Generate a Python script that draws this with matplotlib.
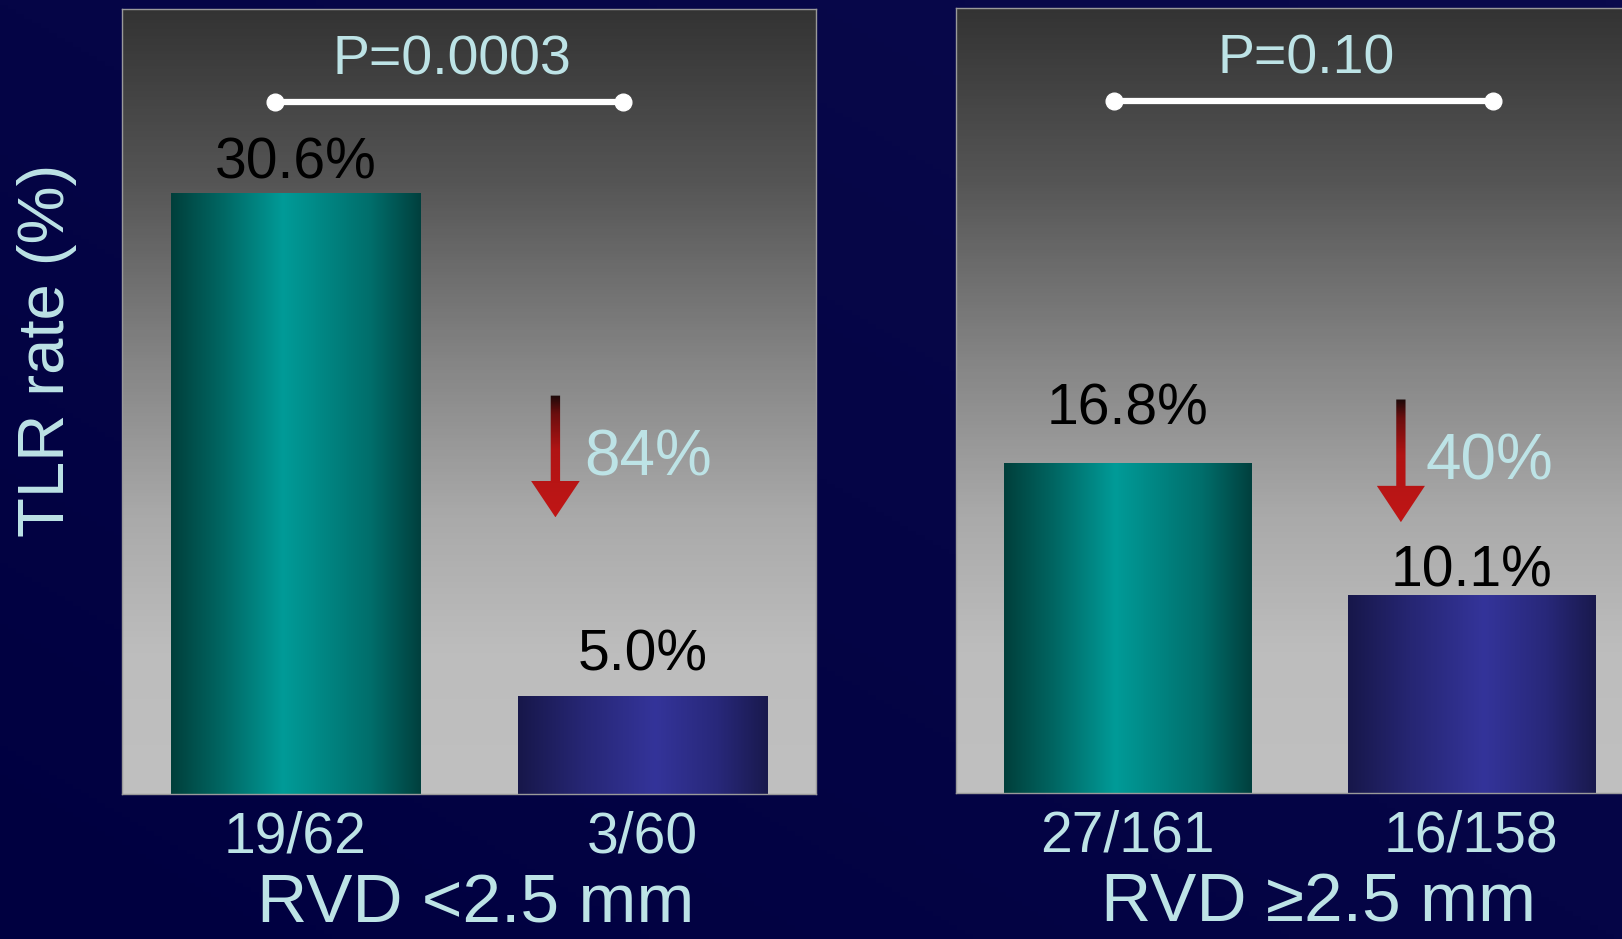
import numpy as np
import matplotlib
matplotlib.use("Agg")
import matplotlib.pyplot as plt
from matplotlib.colors import LinearSegmentedColormap
from matplotlib.patches import FancyArrow

plt.rcParams["font.family"] = ["Liberation Sans", "DejaVu Sans"]

# data
group_titles = ["RVD <2.5 mm", "RVD \u22652.5 mm"]
tlr_rates = [[30.6, 5.0], [16.8, 10.1]]
rate_labels = [["30.6%", "5.0%"], ["16.8%", "10.1%"]]
event_counts = [["19/62", "3/60"], ["27/161", "16/158"]]
p_values = ["P=0.0003", "P=0.10"]
reductions = ["84%", "40%"]

TXT = "#bde3e6"
BG_TOP = "#000040"

teal = LinearSegmentedColormap.from_list(
    "teal", [(0, "#003f3b"), (0.2, "#006662"), (0.45, "#009b98"), (0.8, "#006e6b"), (1, "#00403e")])
blue = LinearSegmentedColormap.from_list(
    "blue", [(0, "#17174a"), (0.25, "#262673"), (0.55, "#34349a"), (0.8, "#28287a"), (1, "#19194d")])
panel_cmap = LinearSegmentedColormap.from_list(
    "panel", [(0, "#c0c0c0"), (0.18, "#bdbdbd"), (0.35, "#aaaaaa"), (0.55, "#858585"),
              (0.78, "#555555"), (1, "#333333")])
arrow_cmap = LinearSegmentedColormap.from_list(
    "arr", [(0, "#c01616"), (0.55, "#b01414"), (0.85, "#6a0e0e"), (1, "#1c0a0a")])
bg_cmap = LinearSegmentedColormap.from_list("bg", ["#000040", "#0a0a4c"])


def gradient_fill(ax, patch, cmap, horizontal=True, z=2):
    if isinstance(patch, FancyArrow):
        bb = patch.get_path().get_extents()
    else:
        bb = patch.get_path().get_extents(patch.get_patch_transform())
    g = np.linspace(0, 1, 256)
    img = g.reshape(1, -1) if horizontal else g.reshape(-1, 1)
    im = ax.imshow(img, cmap=cmap, extent=[bb.x0, bb.x1, bb.y0, bb.y1],
                   origin="lower", aspect="auto", zorder=z, interpolation="bicubic")
    im.set_clip_path(patch)


fig = plt.figure(figsize=(16.22, 9.39), dpi=100)
bg = fig.add_axes([0, 0, 1, 1])
xx, yy = np.meshgrid(np.linspace(0, 1, 200), np.linspace(0, 1, 200))
bg.imshow((xx + (1 - yy)) / 2, cmap=bg_cmap, extent=[0, 1, 0, 1], aspect="auto", origin="upper")
bg.axis("off")

axes_pos = [[0.0752, 0.1544, 0.4279, 0.8360], [0.5894, 0.1555, 0.4236, 0.8360]]
bracket_ends = [(-0.06, 0.945), (-0.04, 1.063)]
p_x = [0.45, 0.518]
label_pad = [[1.55, 2.05], [2.75, 1.2]]
arrow_x = [0.749, 0.795]
arrow_top = [20.3, 20.05]
arrow_tip = [14.1, 13.8]
red_txt_xy = [(1.017, 17.1), (1.054, 16.85)]
title_x = [0.51, 0.528]

for i in range(2):
    ax = fig.add_axes(axes_pos[i])
    ax.imshow(np.linspace(0, 1, 256).reshape(-1, 1), cmap=panel_cmap, extent=[-0.5, 1.5, 0, 40],
              origin="lower", aspect="auto", zorder=0)
    xs = np.arange(2)
    bars = ax.bar(xs, tlr_rates[i], width=0.72, color="none", edgecolor="none", zorder=2)
    for b, cm in zip(bars, [teal, blue]):
        gradient_fill(ax, b, cm)
    for x, v, lab, pad in zip(xs, tlr_rates[i], rate_labels[i], label_pad[i]):
        ax.text(x, v + pad, lab, ha="center", va="center", fontsize=41, color="black", zorder=4)

    x0, x1 = bracket_ends[i]
    ax.plot([x0, x1], [35.25, 35.25], color="white", lw=4.5, marker="o", ms=12,
            solid_capstyle="round", zorder=4)
    ax.text(p_x[i], 37.4, p_values[i], ha="center", va="center", fontsize=40, color=TXT, zorder=4)

    arr = FancyArrow(arrow_x[i], arrow_top[i], 0, arrow_tip[i] - arrow_top[i], width=0.027,
                     head_width=0.14, head_length=1.85, length_includes_head=True,
                     facecolor="none", edgecolor="none", zorder=3)
    ax.add_patch(arr)
    gradient_fill(ax, arr, arrow_cmap, horizontal=False, z=3)
    ax.text(*red_txt_xy[i], reductions[i], ha="center", va="center", fontsize=46, color=TXT, zorder=4)

    ax.set_xlim(-0.5, 1.5)
    ax.set_ylim(0, 40)
    ax.set_yticks([])
    ax.set_xticks(xs, event_counts[i])
    ax.tick_params(axis="x", length=0, pad=12, labelsize=41, labelcolor=TXT)
    for s in ax.spines.values():
        s.set_color("#9a9a9a")
        s.set_linewidth(1)
    ax.set_xlabel(group_titles[i], fontsize=50, color=TXT, labelpad=8)
    ax.xaxis.set_label_coords(title_x[i], -0.1)

fig.text(0.029, 0.627, "TLR rate (%)", rotation=90, ha="center", va="center", fontsize=47, color=TXT)

fig.savefig("out.png", dpi=100, facecolor=BG_TOP)
